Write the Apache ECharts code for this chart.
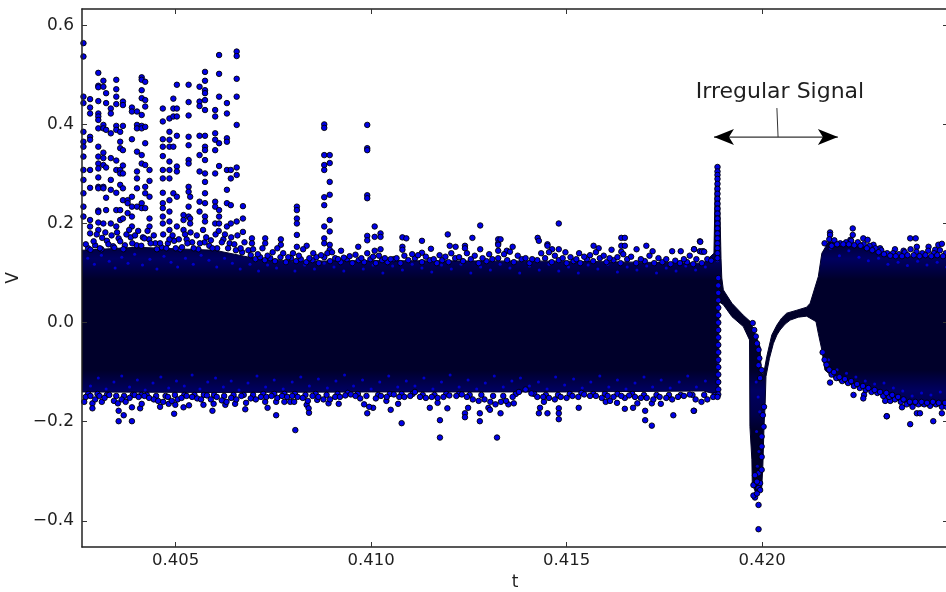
<!DOCTYPE html>
<html><head><meta charset="utf-8">
<style>html,body{margin:0;padding:0;background:#fff}#c{width:946px;height:592px}</style>
<script src="https://cdn.jsdelivr.net/npm/echarts@6/dist/echarts.min.js"></script>
</head><body><div id="c"></div>
<script>
const xTicks=[0.405,0.410,0.415,0.420];
const yTicks=[-0.4,-0.2,0.0,0.2,0.4,0.6];
const annotationText="Irregular Signal";
// solid band outline
const upperT=[.4026,.4040,.4060,.4070,.4080,.4100,.4150,.4185,.41877,.41880,.41883,.41889,.41893,.41895,.41897,.41901,.41923,.41952,.41970,.41982,.41995,.41997,.42002,.42005,.42012,.42021,.42025,.42038,.42050,.42063,.42089,.42114,.42123,.42144,.42153,.42170,.42242,.42328,.4248];
const upperV=[.146,.152,.146,.130,.124,.125,.124,.120,.140,.270,.312,.312,.200,.130,.090,.066,.039,.015,.002,-.022,-.049,-.086,-.109,-.099,-.069,-.038,-.025,-.005,.009,.019,.025,.031,.039,.093,.140,.163,.157,.134,.134];
const lowerT=[.4026,.4060,.4100,.4150,.4185,.41889,.41890,.41901,.41923,.41952,.41968,.41969,.41974,.41975,.41982,.41991,.41999,.42002,.42005,.42008,.42010,.42019,.42029,.42038,.42046,.42059,.42072,.42093,.42114,.42138,.42144,.42153,.42161,.42191,.42242,.42293,.42345,.42396,.4248];
const lowerV=[-.140,-.141,-.140,-.140,-.138,-.146,.042,.036,.012,-.008,-.035,-.210,-.277,-.325,-.340,-.345,-.335,-.290,-.210,-.163,-.109,-.072,-.042,-.025,-.015,-.003,.005,.011,.013,.002,-.022,-.055,-.096,-.116,-.129,-.143,-.156,-.168,-.168];
// columns of isolated upper points
const upperColumns=[
[.40264,[.564,.537,.456,.443,.385,.365,.355,.335,.308,.288,.261,.234,.214]],
[.40281,[.451,.434,.422,.375,.369,.308,.272,.207,.194,.180]],
[.40302,[.504,.478,.475,.447,.422,.416,.409,.392,.355,.335,.321,.311,.293,.274,.271,.226,.223,.202,.187]],
[.40315,[.488,.476,.399,.392,.343,.332,.318,.274,.271,.200]],
[.40322,[.463,.443,.389,.313,.252,.227]],
[.40334,[.432,.422,.382,.332,.288,.268,.200]],
[.40348,[.490,.471,.456,.441,.397,.389,.327,.308,.262,.227,.194]],
[.40358,[.385,.365,.352,.308,.301,.278,.227,.207]],
[.40365,[.446,.439,.397,.348,.317,.301,.271,.247,.210]],
[.40377,[.247,.241,.221]],
[.40388,[.434,.426,.370,.254,.234,.214,.194]],
[.40401,[.426,.399,.392,.345,.305,.291,.271,.234]],
[.40413,[.495,.490,.469,.453,.419,.397,.392,.338,.321,.241,.231]],
[.40422,[.486,.449,.436,.395,.362,.318,.274,.261,.231]],
[.40433,[.308,.286,.254,.210,.194]],
[.40467,[.432,.406,.370,.355,.336,.308,.291,.262,.241,.231,.214,.200]],
[.40484,[.412,.385,.369,.355,.325,.308,.291,.247,.224,.204,.187]],
[.40494,[.452,.432,.416,.355,.261]],
[.40503,[.480,.432,.416,.377,.315,.305,.254,.194]],
[.40520,[.217,.207,.187]],
[.40533,[.480,.445,.418,.375,.358,.328,.321,.274,.264,.234,.214]],
[.40537,[.254,.210,.200]],
[.40561,[.476,.446,.437,.377,.338,.305,.244,.224]],
[.40575,[.506,.488,.469,.463,.449,.429,.377,.355,.348,.328,.301,.284,.261,.241,.214,.204]],
[.40601,[.429,.416,.382,.369,.348,.301,.244,.234,.200]],
[.40611,[.540,.502,.456,.362,.316,.227,.214,.200]],
[.40631,[.443,.422,.372,.365,.308,.268,.241,.194]],
[.40641,[.308,.291,.237,.200]],
[.40656,[.547,.538,.492,.456,.399,.313,.298,.204]],
[.40672,[.235,.210,.183]],
[.40695,[.170,.160]],[.40729,[.170,.160]],[.40769,[.168,.157]],
[.40810,[.234,.227,.210,.200,.177,.153]],
[.40835,[.155]],[.40852,[.140]],
[.40880,[.400,.393,.338,.318,.308,.253,.237,.194,.170,.160]],
[.40894,[.338,.322,.284,.258,.207,.184,.157,.147]],
[.40990,[.399,.352,.348,.257,.251,.175,.166]],
[.41009,[.194,.173,.145]],[.41024,[.180,.173,.148]],[.40923,[.145]],[.40967,[.153]],
[.41080,[.172,.153,.147]],[.41090,[.170]],[.41130,[.165,.141]],[.41153,[.149]],
[.41196,[.178]],[.41201,[.155]],[.41216,[.153]],[.41240,[.155,.150]],[.41259,[.171]],
[.41279,[.196,.148]],[.41302,[.138]],[.41325,[.168,.160,.157,.145]],[.41331,[.168]],
[.41362,[.153]],[.41347,[.145]],[.41426,[.171]],[.41429,[.165]],[.41451,[.158,.155]],
[.41480,[.200,.148]],[.41463,[.148]],[.41497,[.142]],[.41532,[.140]],[.41569,[.155]],
[.41582,[.150]],[.41615,[.147]],[.41640,[.171,.155,.143]],[.41649,[.171,.155]],
[.41679,[.148]],[.41704,[.155]],[.41720,[.144]],[.41770,[.144]],[.41792,[.144]],
[.41841,[.164,.144]],[.41826,[.148,.148]],[.41849,[.144]],[.41842,[.163]],[.41846,[.143]],[.41852,[.143]],
[.42174,[.182,.177]],[.42232,[.190,.177]],[.42226,[.167]],[.42259,[.170]],[.42270,[.167]],
[.42285,[.157]],[.42302,[.150]],[.42340,[.148]],[.42379,[.170]],[.42393,[.170]],[.42396,[.153]],
[.42362,[.145]],[.42451,[.157]],[.42460,[.159]],[.42426,[.153]],[.42443,[.147]]
];
// columns of isolated lower points
const lowerColumns=[
[.40266,[-.160]],[.40287,[-.163,-.173]],[.40311,[-.160]],[.40354,[-.178,-.199]],[.40367,[-.187]],
[.40388,[-.171,-.199]],[.40409,[-.173]],[.40413,[-.164]],[.40460,[-.170]],[.40482,[-.164]],
[.40496,[-.184]],[.40499,[-.166]],[.40520,[-.171]],[.40534,[-.167]],[.40571,[-.166]],
[.40597,[-.164]],[.40594,[-.178]],[.40627,[-.166]],[.40652,[-.164]],[.40678,[-.175]],
[.40729,[-.160]],[.40735,[-.172]],[.40757,[-.160,-.187]],[.40778,[-.160]],[.40793,[-.160]],
[.40803,[-.160]],[.40806,[-.217]],[.40835,[-.166]],[.40840,[-.173]],[.40841,[-.182]],
[.40862,[-.156]],[.40891,[-.163]],[.40917,[-.164]],
[.40990,[-.183]],[.41005,[-.172]],[.41078,[-.203]],[.41050,[-.176]],[.41039,[-.158]],[.41069,[-.164]],
[.41150,[-.172]],[.41176,[-.197,-.232]],[.41195,[-.173]],[.41170,[-.162]],[.41240,[-.183,-.191]],
[.41248,[-.172]],[.41278,[-.183,-.199]],[.41300,[-.172]],[.41304,[-.176]],[.41322,[-.232]],
[.41331,[-.183]],[.41365,[-.163]],[.41351,[-.165]],[.41429,[-.183]],[.41432,[-.172]],[.41451,[-.183]],
[.41442,[-.160]],[.41480,[-.173,-.183,-.195]],[.41531,[-.172]],[.41600,[-.160]],[.41611,[-.158]],
[.41629,[-.162]],[.41649,[-.152,-.174]],[.41670,[-.172]],[.41681,[-.163]],[.41701,[-.178,-.197]],
[.41718,[-.163,-.208]],[.41741,[-.164]],[.41773,[-.187]],[.41826,[-.178]],
[.41825,[-.178]],[.42234,[-.146]],[.42261,[-.146]],[.42259,[-.153]],[.42174,[-.121]],
[.42319,[-.189,-.189]],[.42315,[-.158]],[.42328,[-.158]],[.42358,[-.171]],[.42379,[-.205,-.163]],
[.42438,[-.199]],[.42396,[-.183]],[.42404,[-.183]],[.42460,[-.183]],[.42413,[-.163]],[.42447,[-.163]]
];
// dots along the spike and the dip
const irregularColumns=[
[.41886,[.314,.305,.298,.290,.280,.270,.260,.250,.240,.230,.220,.210,.200,.190,.180,.170,.160,.150,.140,.130]],
[.41888,[.090,.075,.060,.045,.030,.015,0,-.015,-.030,-.045,-.060,-.075,-.090,-.105,-.120,-.135,-.145]],
[.41976,[-.001]],[.41980,[-.015]],[.41984,[-.028]],[.41987,[-.042]],[.41991,[-.055,-.304,-.334]],
[.41993,[-.072]],[.41991,[-.086]],[.41999,[-.096,-.230,-.250,-.271,-.297]],[.41995,[-.112,-.324,-.338]],
[.42005,[-.170]],[.42002,[-.187]],[.42004,[-.210]],[.41982,[-.308,-.353]],[.41978,[-.328,-.349]],
[.41987,[-.321,-.345]],[.41991,[-.368,-.417]]
];
// dots forming the ragged edge of the band
const topFringe=[[.40270,.158],[.40282,.147],[.40290,.164],[.40298,.178],[.40306,.150],[.40312,.171],[.40320,.182],[.40328,.158],[.40336,.176],[.40343,.151],[.40350,.182],[.40358,.164],[.40366,.148],[.40374,.178],[.40381,.187],[.40389,.160],[.40396,.176],[.40404,.185],[.40412,.155],[.40420,.170],[.40428,.185],[.40436,.160],[.40444,.176],[.40452,.148],[.40460,.160],[.40468,.178],[.40476,.150],[.40484,.168],[.40492,.176],[.40500,.150],[.40508,.168],[.40516,.152],[.40524,.178],[.40530,.160],[.40538,.182],[.40546,.150],[.40554,.176],[.40562,.160],[.40570,.187],[.40578,.172],[.40586,.155],[.40594,.150],[.40602,.178],[.40610,.185],[.40618,.162],[.40626,.178],[.40634,.150],[.40642,.172],[.40650,.158],[.40658,.176],[.40666,.150],[.40676,.162],[.40686,.146],[.40698,.148],[.40710,.138],[.40722,.150],[.40735,.135],[.40748,.142],[.40760,.150],[.40775,.140],[.40788,.132],[.40800,.140],[.40815,.135],[.40826,.148],[.40842,.130],[.40860,.132],[.40872,.136],[.40888,.140],[.40900,.142],[.40915,.128],[.40930,.131],[.40945,.134],[.40960,.137],[.40975,.130],[.40990,.140],[.41005,.133],[.41020,.135],[.41035,.130],[.41050,.128],[.41065,.130],[.41085,.135],[.41105,.138],[.41120,.136],[.41140,.133],[.41160,.128],[.41175,.136],[.41190,.133],[.41205,.140],[.41225,.132],[.41245,.140],[.41265,.135],[.41285,.130],[.41310,.128],[.41340,.138],[.41355,.143],[.41375,.135],[.41395,.130],[.41412,.128],[.41435,.140],[.41455,.142],[.41470,.135],[.41490,.130],[.41510,.132],[.41525,.128],[.41545,.133],[.41560,.136],[.41575,.142],[.41595,.135],[.41610,.130],[.41630,.132],[.41645,.138],[.41665,.133],[.41690,.128],[.41712,.135],[.41735,.130],[.41755,.128],[.41778,.125],[.41800,.128],[.41815,.135],[.41832,.128],[.41860,.128],[.41870,.125]];
const topFringe2=[[.40276,.150],[.40294,.156],[.40310,.148],[.40324,.165],[.40340,.154],[.40354,.170],[.40370,.156],[.40385,.172],[.40400,.156],[.40416,.172],[.40432,.168],[.40448,.160],[.40464,.152],[.40480,.160],[.40496,.165],[.40512,.148],[.40528,.168],[.40542,.162],[.40558,.148],[.40574,.162],[.40590,.166],[.40606,.150],[.40622,.168],[.40638,.160],[.40654,.146],[.40670,.142],[.40692,.136],[.40704,.128],[.40716,.132],[.40728,.126],[.40742,.130],[.40754,.124],[.40768,.132],[.40782,.122],[.40795,.130],[.40808,.124],[.40820,.128],[.40834,.122],[.40850,.126],[.40866,.120],[.40880,.132],[.40895,.124],[.40908,.130],[.40922,.122],[.40938,.128],[.40952,.120],[.40968,.126],[.40982,.122],[.40998,.128],[.41012,.120],[.41028,.126],[.41042,.122],[.41058,.128],[.41075,.120],[.41095,.126],[.41112,.130],[.41130,.122],[.41150,.126],[.41168,.120],[.41182,.126],[.41198,.122],[.41215,.130],[.41235,.124],[.41255,.128],[.41275,.120],[.41295,.124],[.41325,.130],[.41348,.126],[.41365,.122],[.41385,.128],[.41405,.120],[.41425,.126],[.41445,.130],[.41462,.122],[.41480,.126],[.41500,.120],[.41518,.124],[.41535,.120],[.41552,.128],[.41568,.124],[.41585,.130],[.41602,.122],[.41620,.126],[.41638,.120],[.41655,.128],[.41678,.120],[.41700,.124],[.41724,.120],[.41745,.122],[.41766,.118],[.41790,.120],[.41808,.122],[.41824,.118],[.41846,.120]];
const bottomFringe=[[.40270,-.150],[.40282,-.148],[.40294,-.155],[.40305,-.148],[.40318,-.152],[.40330,-.146],[.40342,-.158],[.40352,-.163],[.40362,-.155],[.40372,-.160],[.40382,-.152],[.40395,-.146],[.40405,-.150],[.40420,-.148],[.40432,-.152],[.40444,-.155],[.40455,-.158],[.40468,-.160],[.40480,-.150],[.40490,-.158],[.40505,-.155],[.40515,-.152],[.40528,-.148],[.40542,-.150],[.40555,-.153],[.40565,-.155],[.40580,-.147],[.40590,-.155],[.40605,-.150],[.40618,-.157],[.40630,-.160],[.40642,-.152],[.40655,-.155],[.40668,-.148],[.40680,-.162],[.40692,-.153],[.40705,-.155],[.40718,-.150],[.40732,-.150],[.40745,-.148],[.40760,-.152],[.40772,-.148],[.40785,-.150],[.40798,-.148],[.40812,-.150],[.40825,-.152],[.40838,-.158],[.40850,-.148],[.40865,-.150],[.40878,-.155],[.40895,-.155],[.40908,-.150],[.40920,-.150],[.40934,-.147],[.40948,-.145],[.40960,-.148],[.40972,-.153],[.40982,-.165],[.40995,-.170],[.41012,-.153],[.41025,-.148],[.41040,-.150],[.41058,-.145],[.41072,-.150],[.41085,-.150],[.41100,-.148],[.41112,-.140],[.41125,-.150],[.41140,-.152],[.41155,-.150],[.41170,-.152],[.41185,-.150],[.41200,-.147],[.41218,-.148],[.41232,-.145],[.41245,-.150],[.41260,-.155],[.41275,-.158],[.41290,-.155],[.41305,-.160],[.41318,-.165],[.41332,-.160],[.41345,-.158],[.41362,-.150],[.41378,-.140],[.41395,-.135],[.41410,-.143],[.41425,-.150],[.41440,-.150],[.41455,-.152],[.41470,-.155],[.41485,-.150],[.41500,-.152],[.41515,-.148],[.41530,-.150],[.41545,-.145],[.41560,-.148],[.41575,-.148],[.41590,-.152],[.41605,-.148],[.41620,-.150],[.41640,-.148],[.41660,-.147],[.41675,-.150],[.41690,-.152],[.41705,-.152],[.41722,-.155],[.41738,-.150],[.41755,-.152],[.41770,-.155],[.41785,-.150],[.41800,-.148],[.41815,-.145],[.41830,-.155],[.41845,-.160],[.41860,-.155],[.41875,-.150],[.41886,-.150]];
const bottomFringe2=[[.40276,-.144],[.40300,-.144],[.40324,-.146],[.40348,-.148],[.40368,-.148],[.40390,-.146],[.40412,-.146],[.40426,-.146],[.40450,-.148],[.40474,-.148],[.40498,-.146],[.40522,-.146],[.40548,-.146],[.40572,-.146],[.40598,-.146],[.40624,-.148],[.40648,-.146],[.40674,-.146],[.40698,-.146],[.40724,-.144],[.40752,-.144],[.40778,-.144],[.40805,-.144],[.40832,-.146],[.40858,-.144],[.40886,-.146],[.40914,-.144],[.40940,-.142],[.40966,-.144],[.40988,-.148],[.41018,-.146],[.41048,-.144],[.41078,-.144],[.41106,-.144],[.41132,-.146],[.41162,-.146],[.41192,-.144],[.41225,-.144],[.41252,-.146],[.41282,-.146],[.41312,-.148],[.41338,-.148],[.41370,-.144],[.41417,-.144],[.41447,-.146],[.41478,-.146],[.41508,-.144],[.41538,-.142],[.41568,-.144],[.41598,-.144],[.41630,-.144],[.41668,-.144],[.41698,-.146],[.41730,-.146],[.41762,-.146],[.41792,-.146],[.41822,-.146],[.41852,-.146],[.41880,-.146]];
const rightFringeTop=[[.42160,.160],[.42172,.168],[.42185,.166],[.42200,.160],[.42215,.162],[.42228,.165],[.42245,.162],[.42260,.158],[.42275,.155],[.42290,.150],[.42305,.146],[.42320,.140],[.42335,.140],[.42350,.138],[.42365,.142],[.42380,.148],[.42395,.143],[.42410,.140],[.42425,.145],[.42440,.140],[.42455,.146],[.42470,.140],[.42178,.155],[.42192,.158],[.42208,.158],[.42222,.158],[.42236,.156],[.42252,.155],[.42268,.150],[.42282,.146],[.42298,.142],[.42312,.138],[.42328,.135],[.42342,.134],[.42358,.134],[.42372,.136],[.42388,.136],[.42403,.134],[.42418,.136],[.42433,.134],[.42448,.136],[.42463,.134]];
const rightFringeBottom=[[.42155,-.060],[.42165,-.085],[.42178,-.105],[.42190,-.112],[.42205,-.118],[.42220,-.122],[.42235,-.128],[.42250,-.132],[.42265,-.136],[.42280,-.140],[.42295,-.142],[.42310,-.148],[.42325,-.150],[.42340,-.155],[.42355,-.160],[.42370,-.165],[.42385,-.170],[.42400,-.165],[.42415,-.165],[.42430,-.168],[.42445,-.165],[.42460,-.170],[.42472,-.170],[.42160,-.075],[.42172,-.095],[.42184,-.100],[.42198,-.110],[.42212,-.114],[.42228,-.118],[.42243,-.124],[.42258,-.128],[.42272,-.132],[.42288,-.136],[.42302,-.140],[.42318,-.142],[.42333,-.146],[.42348,-.150],[.42362,-.155],[.42378,-.160],[.42392,-.160],[.42408,-.160],[.42422,-.162],[.42437,-.160],[.42452,-.162],[.42468,-.162]];
// small blue specks showing through the dark band
const innerSpecks=[[.40275,.130],[.40292,.118],[.40310,.136],[.40330,.124],[.40345,.110],[.40362,.132],[.40378,.120],[.40395,.138],[.40415,.116],[.40434,.128],[.40452,.108],[.40470,.134],[.40488,.122],[.40505,.112],[.40525,.130],[.40545,.118],[.40565,.136],[.40585,.126],[.40605,.112],[.40625,.130],[.40645,.120],[.40665,.108],[.40690,.118],[.40712,.104],[.40735,.116],[.40758,.110],[.40780,.120],[.40805,.104],[.40830,.116],[.40855,.108],[.40880,.120],[.40905,.112],[.40930,.104],[.40955,.118],[.40980,.108],[.41005,.116],[.41030,.100],[.41055,.114],[.41080,.106],[.41105,.118],[.41130,.110],[.41155,.102],[.41180,.116],[.41205,.108],[.41230,.118],[.41255,.100],[.41280,.112],[.41305,.106],[.41330,.118],[.41355,.110],[.41380,.100],[.41405,.114],[.41430,.106],[.41455,.118],[.41480,.104],[.41505,.112],[.41530,.100],[.41555,.116],[.41580,.108],[.41605,.118],[.41630,.102],[.41655,.112],[.41680,.106],[.41705,.114],[.41730,.100],[.41755,.110],[.41780,.104],[.41805,.114],[.41830,.106],[.41855,.112],
[.40282,-.128],[.40302,-.112],[.40322,-.134],[.40342,-.120],[.40362,-.108],[.40382,-.130],[.40402,-.116],[.40422,-.136],[.40442,-.122],[.40462,-.110],[.40482,-.132],[.40502,-.118],[.40522,-.128],[.40542,-.106],[.40562,-.134],[.40582,-.120],[.40602,-.112],[.40622,-.130],[.40642,-.118],[.40662,-.136],[.40685,-.122],[.40708,-.108],[.40730,-.130],[.40752,-.116],[.40775,-.134],[.40798,-.120],[.40820,-.110],[.40842,-.128],[.40865,-.114],[.40888,-.132],[.40910,-.118],[.40932,-.106],[.40955,-.128],[.40978,-.116],[.41000,-.134],[.41022,-.120],[.41045,-.108],[.41068,-.130],[.41090,-.118],[.41112,-.128],[.41135,-.112],[.41158,-.134],[.41180,-.120],[.41202,-.106],[.41225,-.130],[.41248,-.116],[.41270,-.134],[.41292,-.122],[.41315,-.108],[.41338,-.130],[.41360,-.118],[.41382,-.112],[.41405,-.128],[.41428,-.120],[.41450,-.134],[.41472,-.110],[.41495,-.126],[.41518,-.114],[.41540,-.132],[.41562,-.120],[.41585,-.108],[.41608,-.130],[.41630,-.116],[.41652,-.134],[.41675,-.122],[.41698,-.110],[.41720,-.130],[.41742,-.116],[.41765,-.132],[.41788,-.120],[.41810,-.108],[.41832,-.130],[.41855,-.118],
[.42175,.150],[.42198,.135],[.42222,.145],[.42248,.132],[.42272,.125],[.42298,.130],[.42322,.118],[.42348,.122],[.42372,.115],[.42398,.124],[.42422,.116],[.42448,.122],[.42472,.112],
[.42170,-.075],[.42192,-.095],[.42216,-.102],[.42240,-.110],[.42264,-.118],[.42288,-.124],[.42312,-.122],[.42336,-.132],[.42360,-.138],[.42384,-.148],[.42408,-.142],[.42432,-.146],[.42456,-.140],
[.41886,.125],[.41888,-.080],[.41985,-.120],[.41990,-.150],[.41994,-.180],[.41986,-.220],[.41992,-.260],[.41988,-.290]];
// annotation anchors
const arrowFrom=[.41877,.3745], arrowTo=[.42194,.3745];
const stemFrom=[.42038,.433], stemTo=[.42041,.3745];
const labelAt=[.42046,.4653];

const flat=cols=>cols.flatMap(c=>c[1].map(v=>[c[0],v]));
const points=[].concat(topFringe2,bottomFringe2,flat(upperColumns),flat(lowerColumns),flat(irregularColumns),topFringe,bottomFringe,rightFringeTop,rightFringeBottom);
const minus=s=>s.replace('-','\u2212');
const FONT='DejaVu Sans', INK='#1f1f1f';
const X_MIN=.402603,X_MAX=.424757,Y_MIN=-.4529,Y_MAX=.6329;
const xBase={type:'value',min:X_MIN,max:X_MAX,z:10,splitLine:{show:false},
  axisLine:{onZero:false,lineStyle:{color:'#222',width:1.5}},
  axisTick:{show:true,inside:true,length:5,customValues:xTicks,lineStyle:{color:'#333',width:1}}};
const yBase={type:'value',min:Y_MIN,max:Y_MAX,z:10,splitLine:{show:false},
  axisLine:{onZero:false,lineStyle:{color:'#222',width:1.5}},
  axisTick:{show:true,inside:true,length:5,customValues:yTicks,lineStyle:{color:'#333',width:1}}};
const chart=echarts.init(document.getElementById('c'),null,{renderer:'canvas'});
chart.setOption({
 animation:false,backgroundColor:'#fff',
 grid:{left:82,top:9,right:-2,bottom:45,containLabel:false,outerBoundsMode:'none'},
 xAxis:[
  Object.assign({},xBase,{position:'bottom',name:'t',nameLocation:'middle',nameGap:25,
    nameTextStyle:{fontFamily:FONT,fontSize:17,color:INK},
    axisLabel:{customValues:xTicks,margin:5,fontFamily:FONT,fontSize:16.5,color:INK,formatter:v=>v.toFixed(3)}}),
  Object.assign({},xBase,{position:'top',axisLabel:{show:false}})
 ],
 yAxis:[
  Object.assign({},yBase,{position:'left',name:'V',nameLocation:'middle',nameGap:58,nameRotate:90,
    nameTextStyle:{fontFamily:FONT,fontSize:17,color:INK},
    axisLabel:{customValues:yTicks,margin:8,fontFamily:FONT,fontSize:17,color:INK,formatter:v=>minus(v.toFixed(1))}}),
  Object.assign({},yBase,{position:'right',axisLabel:{show:false}})
 ],
 series:[
  {type:'custom',coordinateSystem:'cartesian2d',clip:true,silent:true,z:2,data:[[X_MIN,0]],
   renderItem:(p,api)=>{
     const up=upperT.map((t,i)=>api.coord([t,upperV[i]]));
     const lo=lowerT.map((t,i)=>api.coord([t,lowerV[i]])).reverse();
     const y0=api.coord([X_MIN,.33])[1],y1=api.coord([X_MIN,-.43])[1];
     const fill=new echarts.graphic.LinearGradient(0,y0,0,y1,[
       {offset:0,color:'#000028'},{offset:.21,color:'#000028'},{offset:.265,color:'#000060'},
       {offset:.32,color:'#00002a'},{offset:.56,color:'#00002a'},{offset:.615,color:'#000060'},
       {offset:.68,color:'#000048'},{offset:.72,color:'#000028'},{offset:1,color:'#000028'}],true);
     return {type:'polygon',shape:{points:up.concat(lo)},style:{fill:fill,stroke:'#000028',lineWidth:1}};
   }},
  {type:'scatter',data:innerSpecks,symbol:'circle',symbolSize:3,clip:true,z:3,silent:true,
   itemStyle:{color:'#0000d8',opacity:.9}},
  {type:'scatter',data:points,symbol:'circle',symbolSize:5.5,clip:true,z:3,silent:true,
   itemStyle:{color:'#0000e8',borderColor:'#000',borderWidth:.9,opacity:1}},
  {type:'line',data:[stemFrom,stemTo],showSymbol:false,symbol:'none',z:4,silent:true,
   lineStyle:{color:'#333',width:1}},
  {type:'line',data:[arrowFrom,arrowTo],showSymbol:false,symbol:'none',z:4,silent:true,
   lineStyle:{color:'#333',width:1.2}},
  {type:'scatter',data:[{value:arrowFrom,symbolRotate:90},{value:arrowTo,symbolRotate:-90}],symbol:'arrow',symbolSize:[12,20],symbolOffset:[0,0],z:5,silent:true,
   itemStyle:{color:'#000',opacity:1}},
  {type:'scatter',data:[labelAt],symbolSize:0,z:5,silent:true,itemStyle:{opacity:1},
   label:{show:true,position:'inside',formatter:annotationText,fontFamily:FONT,fontSize:22,color:'#1f1f1f',opacity:1}}
 ]
});
</script></body></html>
